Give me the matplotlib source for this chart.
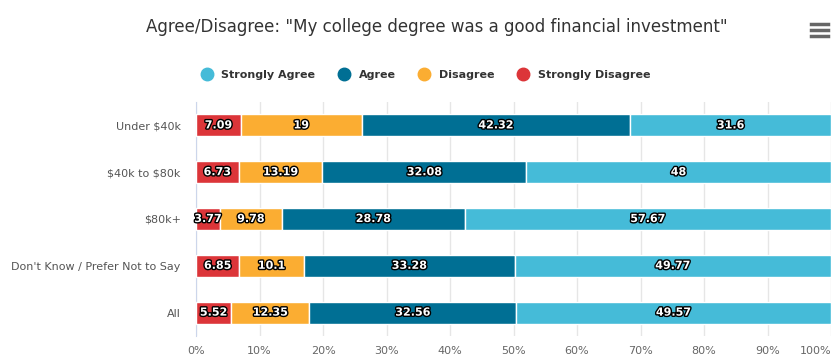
import numpy as np
import matplotlib.pyplot as plt
import matplotlib.patheffects as pe
from matplotlib.lines import Line2D

plt.rcParams["text.parse_math"] = False

categories = ["Under $40k", "$40k to $80k", "$80k+", "Don't Know / Prefer Not to Say", "All"]
strongly_disagree = [7.09, 6.73, 3.77, 6.85, 5.52]
disagree = [19, 13.19, 9.78, 10.1, 12.35]
agree = [42.32, 32.08, 28.78, 33.28, 32.56]
strongly_agree = [31.6, 48, 57.67, 49.77, 49.57]

series = [
    ("Strongly Disagree", strongly_disagree, "#dc3539"),
    ("Disagree", disagree, "#fbad32"),
    ("Agree", agree, "#006f94"),
    ("Strongly Agree", strongly_agree, "#45bbd8"),
]

fig = plt.figure(figsize=(8.36, 3.6), dpi=100)
ax = fig.add_axes([196 / 836, 1 - 336 / 360, (831 - 196) / 836, (336 - 102) / 360])

totals = (np.array(strongly_disagree) + np.array(disagree)
          + np.array(agree) + np.array(strongly_agree))
y = np.arange(len(categories))
left = np.zeros(len(categories))
for name, vals, color in series:
    vals = np.array(vals, dtype=float)
    pct = vals / totals * 100
    ax.barh(y, pct, left=left, height=0.47, color=color, edgecolor="white",
            linewidth=1, zorder=3)
    for yi, l, w, v in zip(y, left, pct, vals):
        ax.text(l + w / 2, yi, f"{v:g}", ha="center", va="center",
                color="white", fontsize=8, fontweight="bold", zorder=4,
                path_effects=[pe.withStroke(linewidth=2, foreground="black")])
    left += pct

ax.set_xlim(0, 100)
ax.set_ylim(len(categories) - 0.5, -0.5)
ax.set_yticks(y)
ax.set_yticklabels(categories, fontsize=8, color="#555555")
ax.set_xticks(np.arange(0, 101, 10))
ax.set_xticklabels([f"{t}%" for t in range(0, 101, 10)], fontsize=8, color="#666666")
ax.get_xticklabels()[-1].set_horizontalalignment("right")
ax.tick_params(axis="y", length=0, pad=11)
ax.tick_params(axis="x", length=0, pad=7)
ax.grid(axis="x", color="#e6e6e6", linewidth=1, zorder=0)
for s in ["top", "right", "bottom"]:
    ax.spines[s].set_visible(False)
ax.spines["left"].set_color("#ccd6eb")

fig.text(437 / 836, 1 - 27 / 360, 'Agree/Disagree: "My college degree was a good financial investment"',
         ha="center", va="center", fontsize=12, color="#333333")

handles = [Line2D([], [], marker="o", linestyle="", markersize=9, color=c)
           for _, _, c in reversed(series)]
labels = [n for n, _, _ in reversed(series)]
leg = fig.legend(handles, labels, loc="center", bbox_to_anchor=(423 / 836, 1 - 75 / 360),
                 ncol=4, frameon=False, prop={"weight": "bold", "size": 8},
                 handletextpad=0.3, columnspacing=1.6)
for t in leg.get_texts():
    t.set_color("#333333")

# menu icon
for yy in [24, 30, 36]:
    fig.add_artist(Line2D([811 / 836, 828 / 836], [1 - yy / 360, 1 - yy / 360],
                          color="#666666", linewidth=2.5))

fig.savefig("out.png", dpi=100)
